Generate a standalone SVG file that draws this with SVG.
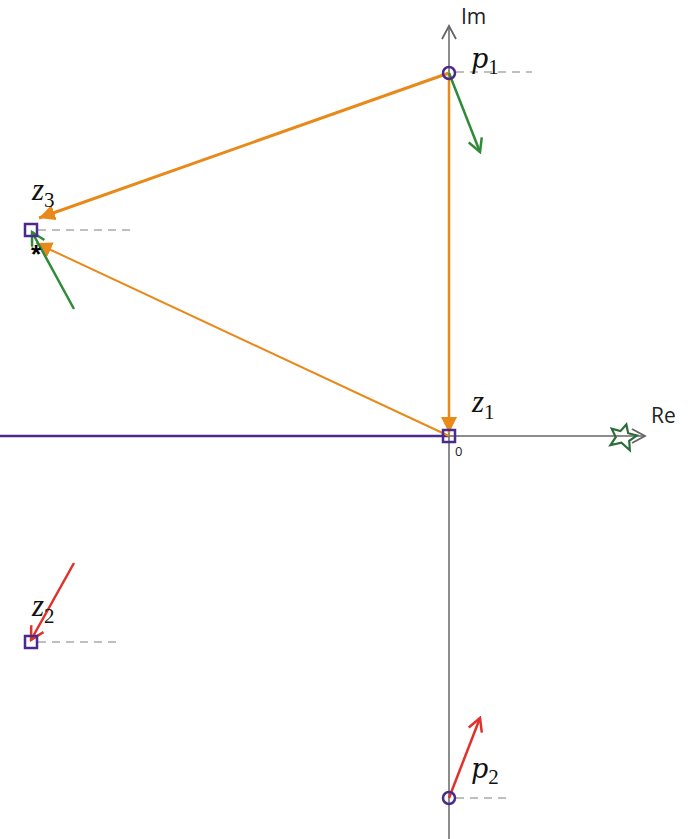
<svg xmlns="http://www.w3.org/2000/svg" width="691" height="839" viewBox="0 0 691 839">
<style>
.axis{stroke:#666;stroke-width:1.5;fill:none}
.dash{stroke:#aaa;stroke-width:1.5;stroke-dasharray:8,6;fill:none}
.node{stroke:#4a2a8c;stroke-width:2.5;fill:none}
.lbl{font-family:"DejaVu Serif","Liberation Serif",serif;font-style:italic;font-size:27px;fill:#111}
.lblz{font-family:"Liberation Serif","DejaVu Serif",serif;font-style:italic;font-size:31px;fill:#111}
.sub{font-family:"Liberation Serif",serif;font-size:21px;font-style:normal}
.ax{font-family:"Open Sans","Liberation Sans",sans-serif;font-size:21px;fill:#222}
.green{stroke:#2f8a3a;stroke-width:2.5;fill:none}
.red{stroke:#e0312a;stroke-width:2.5;fill:none}
.orange{stroke:#e8891a;fill:none}
</style>
<defs>
<marker id="chevG" markerWidth="16" markerHeight="16" refX="14" refY="8" orient="auto" markerUnits="userSpaceOnUse">
<path d="M1,1 L14,8 L1,15" fill="none" stroke="#2f8a3a" stroke-width="2.5"/>
</marker>
<marker id="chevR" markerWidth="16" markerHeight="16" refX="14" refY="8" orient="auto" markerUnits="userSpaceOnUse">
<path d="M1,1 L14,8 L1,15" fill="none" stroke="#e0312a" stroke-width="2.5"/>
</marker>
<marker id="chevA" markerWidth="16" markerHeight="16" refX="14" refY="8" orient="auto" markerUnits="userSpaceOnUse">
<path d="M1,1 L14,8 L1,15" fill="none" stroke="#666" stroke-width="1.8"/>
</marker>
<marker id="tri" markerWidth="20" markerHeight="20" refX="16" refY="8" orient="auto" markerUnits="userSpaceOnUse">
<path d="M0,0 L16,8 L0,16 Z" fill="#e8891a"/>
</marker>
</defs>
<rect width="691" height="839" fill="#fff"/>
<g id="axes">
<line class="axis" x1="449" y1="839" x2="449" y2="26" marker-end="url(#chevA)"/>
<line class="axis" x1="449" y1="436" x2="645" y2="436" marker-end="url(#chevA)"/>
<line x1="0" y1="436" x2="449" y2="436" stroke="#4a2a8c" stroke-width="2.5"/>
<text class="ax" x="461" y="24">Im</text>
<text class="ax" x="651" y="423">Re</text>
<text class="ax" x="455" y="456" style="font-size:13px">0</text>
</g>
<g id="connectors">
<line class="orange" x1="449" y1="73" x2="39" y2="218" stroke-width="3" marker-end="url(#tri)"/>
<line class="orange" x1="449" y1="73" x2="449" y2="433" stroke-width="2.5" marker-end="url(#tri)"/>
<line class="orange" x1="449" y1="436" x2="36" y2="243" stroke-width="2" marker-end="url(#tri)"/>
<line class="green" x1="449" y1="73" x2="480" y2="152" marker-end="url(#chevG)"/>
<line class="green" x1="74" y1="309" x2="32" y2="232" marker-end="url(#chevG)"/>
<line class="red" x1="74" y1="563" x2="31" y2="640" marker-end="url(#chevR)"/>
<line class="red" x1="449" y1="798" x2="480" y2="718" marker-end="url(#chevR)"/>
</g>
<g id="p1">
<line class="dash" x1="456" y1="72" x2="532" y2="72"/>
<circle class="node" cx="449" cy="73" r="6"/>
<text class="lbl" x="471" y="68">p<tspan class="sub" dy="6">1</tspan></text>
</g>
<g id="z3">
<line class="dash" x1="38" y1="230" x2="133" y2="230"/>
<rect class="node" x="25" y="224" width="12" height="12"/>
<text class="lblz" x="32" y="200">z<tspan class="sub" dy="7">3</tspan></text>
<text x="31" y="263" font-family="Liberation Sans,sans-serif" font-size="26" font-weight="bold" fill="#000">*</text>
</g>
<g id="z1">
<rect class="node" x="443" y="430" width="12" height="12"/>
<text class="lblz" x="472" y="412">z<tspan class="sub" dy="7">1</tspan></text>
</g>
<g id="zero">
<path d="M623,424 L627,432 L636,432 L630,439 L633,448 L623,443 L613,448 L616,439 L610,432 L619,432 Z" fill="none" stroke="#2d6b38" stroke-width="2.2" transform="rotate(15 623 437)"/>
</g>
<g id="z2">
<line class="dash" x1="38" y1="642" x2="116" y2="642"/>
<rect class="node" x="25" y="636" width="12" height="12"/>
<text class="lblz" x="32" y="616">z<tspan class="sub" dy="7">2</tspan></text>
</g>
<g id="p2">
<line class="dash" x1="456" y1="798" x2="512" y2="798"/>
<circle class="node" cx="449" cy="798" r="6"/>
<text class="lbl" x="471" y="778">p<tspan class="sub" dy="6">2</tspan></text>
</g>
</svg>
